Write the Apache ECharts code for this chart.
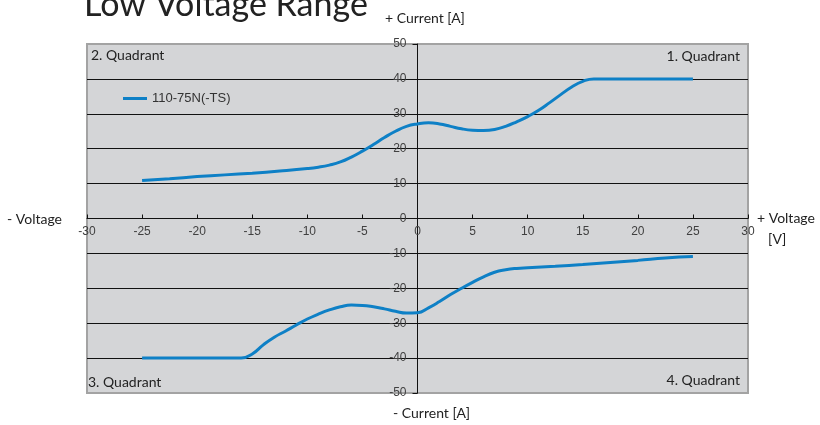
<!DOCTYPE html>
<html><head><meta charset="utf-8">
<script src="https://cdn.jsdelivr.net/npm/echarts@6/dist/echarts.min.js"></script>
<style>html,body{margin:0;padding:0;background:#fff}#c{width:820px;height:425px}</style>
</head><body><div id="c"></div>
<script>
const seriesName = '110-75N(-TS)';
const xTicks = [-30, -25, -20, -15, -10, -5, 0, 5, 10, 15, 20, 25, 30];
const yTicks = [-50, -40, -30, -20, -10, 0, 10, 20, 30, 40, 50];
const upperVoltage = [-25, -22.5, -20, -17.5, -15, -12.5, -10, -9, -8, -7, -6, -5, -4, -3, -2, -1, 0, 1, 2, 3, 4, 5, 6, 7, 8, 9, 10, 11, 12, 13, 14, 15, 16, 17, 20, 22.5, 25];
const upperCurrent = [10.9, 11.4, 12.0, 12.5, 13.0, 13.6, 14.3, 14.7, 15.3, 16.2, 17.6, 19.3, 21.2, 23.2, 25.0, 26.4, 27.1, 27.4, 27.1, 26.4, 25.7, 25.3, 25.2, 25.5, 26.4, 27.7, 29.2, 31.0, 33.2, 35.5, 37.7, 39.3, 40, 40, 40, 40, 40];
const lowerVoltage = [-25, -22.5, -20, -17.5, -16, -15, -14, -13, -12, -11, -10, -9, -8, -7, -6, -5, -4, -3, -2, -1, 0, 1, 2, 3, 4, 5, 6, 7, 8, 9, 10, 12.5, 15, 17.5, 20, 22.5, 25];
const lowerCurrent = [-40, -40, -40, -40, -40, -38.8, -36.2, -34.0, -32.3, -30.5, -28.8, -27.4, -26.2, -25.3, -24.8, -24.9, -25.3, -25.9, -26.6, -27.1, -27.0, -25.6, -23.8, -21.8, -20.0, -18.3, -16.7, -15.4, -14.7, -14.3, -14.1, -13.7, -13.2, -12.6, -12.0, -11.3, -10.9];
const quadrantLabels = ['1. Quadrant', '2. Quadrant', '3. Quadrant', '4. Quadrant'];

const pair = (xs, ys) => xs.map((x, i) => [x, ys[i]]);
const lineColor = '#0e80c6';
const lbl = 'Lato, "Open Sans", sans-serif';
const tickFont = 'Liberation Sans, Arial, sans-serif';

const W = 820, H = 425;
const gridLeft = 87, gridRight = 72, gridTop = 44, gridBottom = 32;
const gridWidth = W - gridLeft - gridRight;
const gridHeight = H - gridTop - gridBottom;
const xMin = xTicks[0], xMax = xTicks[xTicks.length - 1];
const yMin = yTicks[0], yMax = yTicks[yTicks.length - 1];
const yAxisOffset = -((0 - xMin) / (xMax - xMin)) * gridWidth;
const xAxisOffset = -((0 - yMin) / (yMax - yMin)) * gridHeight;

const chart = echarts.init(document.getElementById('c'), null, {renderer: 'canvas'});
const lineSeries = (data) => ({
  name: seriesName, type: 'line', data, smooth: 0.5,
  showSymbol: false, symbol: 'none',
  lineStyle: {color: lineColor, width: 3}, itemStyle: {color: lineColor}, z: 5
});
chart.setOption({
  animation: false,
  backgroundColor: '#ffffff',
  grid: {left: gridLeft, right: gridRight, top: gridTop, bottom: gridBottom, show: true,
    backgroundColor: '#d4d5d7', borderColor: '#a3a3a3', borderWidth: 2},
  legend: {left: 118, top: 87, itemWidth: 24, itemHeight: 3, icon: 'rect', itemGap: 4,
    data: [seriesName],
    textStyle: {fontFamily: tickFont, fontSize: 13, color: '#333'}},
  xAxis: {type: 'value', min: xMin, max: xMax, interval: 5,
    position: 'bottom', offset: xAxisOffset,
    axisLine: {onZero: false, lineStyle: {color: '#111', width: 1}},
    axisTick: {show: true, inside: true, length: 4, lineStyle: {color: '#111'}},
    axisLabel: {margin: 7, fontFamily: tickFont, fontSize: 12, color: '#404040'},
    splitLine: {show: false}},
  yAxis: {type: 'value', min: yMin, max: yMax, interval: 10,
    position: 'left', offset: yAxisOffset,
    axisLine: {onZero: false, lineStyle: {color: '#111', width: 1}},
    axisTick: {show: true, length: 5, lineStyle: {color: '#111'}},
    axisLabel: {margin: 11, fontFamily: tickFont, fontSize: 12, color: '#404040'},
    splitLine: {show: true, showMinLine: false, showMaxLine: false, lineStyle: {color: '#111', width: 1}}},
  series: [lineSeries(pair(upperVoltage, upperCurrent)), lineSeries(pair(lowerVoltage, lowerCurrent))],
  graphic: [
    {type: 'text', left: 84, top: -12, style: {text: 'Low Voltage Range', font: '34px ' + lbl, fill: '#222'}},
    {type: 'text', left: 385, top: 11, style: {text: '+ Current [A]', font: '14px ' + lbl, fill: '#222'}},
    {type: 'text', left: 393, top: 406, style: {text: '- Current [A]', font: '14px ' + lbl, fill: '#222'}},
    {type: 'text', left: 7, top: 212, style: {text: '- Voltage', font: '14px ' + lbl, fill: '#222'}},
    {type: 'text', left: 757, top: 211, style: {text: '+ Voltage', font: '14px ' + lbl, fill: '#222'}},
    {type: 'text', left: 768, top: 232, style: {text: '[V]', font: '14px ' + lbl, fill: '#222'}},
    {type: 'text', right: 80, top: 49, style: {text: quadrantLabels[0], font: '14px ' + lbl, fill: '#222'}},
    {type: 'text', left: 91, top: 48, style: {text: quadrantLabels[1], font: '14px ' + lbl, fill: '#222'}},
    {type: 'text', left: 88, top: 375, style: {text: quadrantLabels[2], font: '14px ' + lbl, fill: '#222'}},
    {type: 'text', right: 80, top: 373, style: {text: quadrantLabels[3], font: '14px ' + lbl, fill: '#222'}}
  ]
});
</script></body></html>
